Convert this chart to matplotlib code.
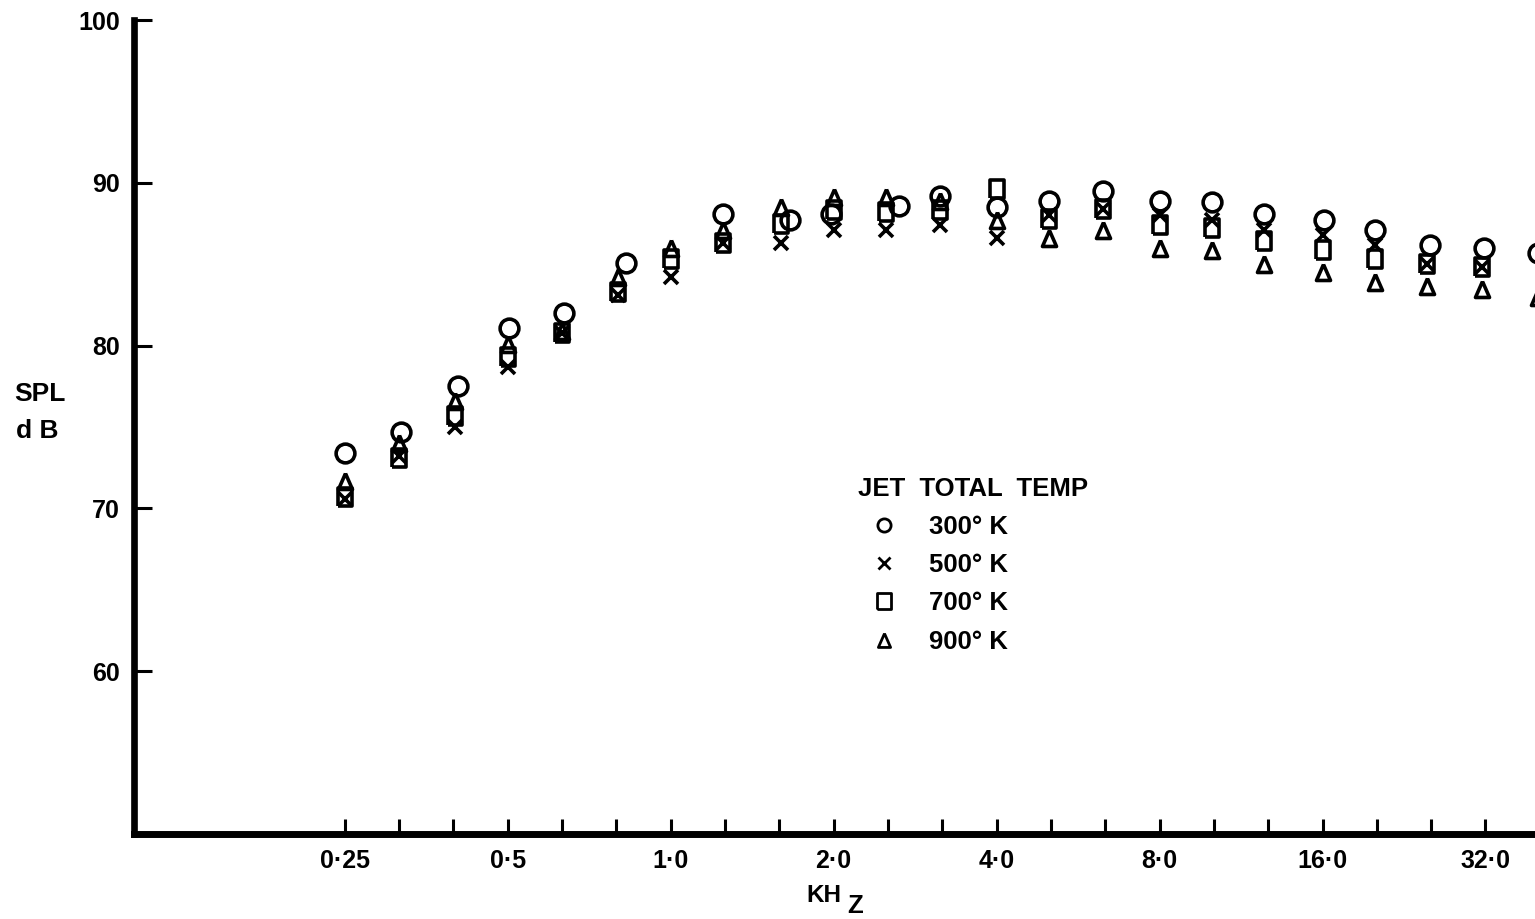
import numpy as np
import matplotlib
matplotlib.use("Agg")
import matplotlib.pyplot as plt
from matplotlib.lines import Line2D
from matplotlib.ticker import FixedLocator, FixedFormatter, NullLocator

plt.rcParams['font.family'] = ['Liberation Sans', 'DejaVu Sans']
plt.rcParams['font.weight'] = 'bold'

# ---------------- data ----------------
freq = [0.25, 0.315, 0.4, 0.5, 0.63, 0.8, 1.0, 1.25, 1.6, 2.0, 2.5, 3.15,
        4.0, 5.0, 6.3, 8.0, 10.0, 12.5, 16.0, 20.0, 25.0, 31.5, 40.0]
# 300 K points sit slightly off the nominal band centres in the original
freq_300 = [0.25, 0.317, 0.405, 0.503, 0.635, 0.828, 1.0, 1.25, 1.66, 1.98, 2.64, 3.15,
            4.0, 5.0, 6.3, 8.0, 10.0, 12.5, 16.1, 20.0, 25.3, 31.8, 40.0]
spl_300 = [73.4, 74.7, 77.5, 81.1, 82.0, 85.1, np.nan, 88.1, 87.7, 88.1, 88.6, 89.2,
           88.5, 88.9, 89.5, 88.9, 88.8, 88.1, 87.7, 87.1, 86.2, 86.0, 85.7]
spl_500 = [70.6, 73.2, 75.0, 78.7, 80.8, 83.1, 84.2, 86.3, 86.3, 87.1, 87.1, 87.4,
           86.6, 88.0, 88.4, 88.0, 87.7, 87.1, 86.8, 86.2, 85.0, 84.8, np.nan]
spl_700 = [70.7, 73.1, 75.7, 79.3, 80.8, 83.3, 85.3, 86.3, 87.5, 88.3, 88.2, 88.3,
           89.6, 87.8, 88.4, 87.4, 87.25, 86.4, 85.9, 85.3, 85.0, 84.8, np.nan]
spl_900 = [71.7, 74.0, 76.6, 80.1, 80.9, 84.2, 86.0, 87.1, 88.5, 89.1, 89.1, 88.9,
           87.7, 86.6, 87.1, 86.0, 85.9, 85.0, 84.5, 83.9, 83.65, 83.5, 83.0]

series_labels = ["300\u00b0 K", "500\u00b0 K", "700\u00b0 K", "900\u00b0 K"]
legend_title = "JET  TOTAL  TEMP"

xtick_values = [0.25 * 2 ** (k / 3.0) for k in range(22)]
xtick_labels = ["0\u00b725", "", "", "0\u00b75", "", "", "1\u00b70", "", "", "2\u00b70", "", "",
                "4\u00b70", "", "", "8\u00b70", "", "", "16\u00b70", "", "", "32\u00b70"]
ytick_values = [60, 70, 80, 90, 100]
ytick_labels = ["60", "70", "80", "90", "100"]

# ---------------- marker shapes ----------------
rect_tall = [(-0.39, -0.5), (0.39, -0.5), (0.39, 0.5), (-0.39, 0.5), (-0.39, -0.5)]
tri = [(0.0, 0.5), (-0.44, -0.5), (0.44, -0.5), (0.0, 0.5)]

# ---------------- figure ----------------
W, H = 1535, 919
fig = plt.figure(figsize=(W / 100, H / 100), dpi=100)
ax = fig.add_axes([134 / W, (H - 834) / H, (W - 134) / W, 814 / H])
ax.set_xscale('log', base=2)
ax.set_xlim(0.102, 39.5)
ax.set_ylim(50, 100)

common = dict(linestyle='none', mfc='none', mec='black', color='black')
ax.plot(freq_300, spl_300, marker='o', ms=13.5, mew=2.6, **common)
ax.plot(freq, spl_500, marker='x', ms=10.5, mew=2.6, **common)
ax.plot(freq, spl_700, marker=rect_tall, ms=13, mew=2.6, **common)
ax.plot(freq, spl_900, marker=tri, ms=11.5, mew=2.6, **common)

# axes styling
for s in ['top', 'right']:
    ax.spines[s].set_visible(False)
ax.spines['left'].set_linewidth(4.8)
ax.spines['bottom'].set_linewidth(5)

ax.xaxis.set_major_locator(FixedLocator(xtick_values))
ax.xaxis.set_major_formatter(FixedFormatter(xtick_labels))
ax.xaxis.set_minor_locator(NullLocator())
ax.yaxis.set_major_locator(FixedLocator(ytick_values))
ax.yaxis.set_major_formatter(FixedFormatter(ytick_labels))
ax.yaxis.set_minor_locator(NullLocator())
ax.tick_params(axis='x', direction='in', length=11, width=2.2, pad=11, labelsize=18)
ax.tick_params(axis='y', direction='in', length=13, width=2.2, pad=10, labelsize=18)

# axis labels
fig.text(14 / W, 1 - 394 / H, "SPL", ha='left', va='center', fontsize=19)
fig.text(16 / W, 1 - 431 / H, "d B", ha='left', va='center', fontsize=19)
fig.text(824 / W, 1 - 896 / H, "KH", ha='center', va='center', fontsize=17.5)
fig.text(855 / W, 1 - 906 / H, "Z", ha='center', va='center', fontsize=18.5)

# legend
lcommon = dict(linestyle='none', mfc='none', mec='black', color='black', mew=2.0)
handles = [Line2D([], [], marker='o', ms=9.5, **lcommon),
           Line2D([], [], marker='x', ms=8.5, **lcommon),
           Line2D([], [], marker=rect_tall, ms=12, **lcommon),
           Line2D([], [], marker=tri, ms=10, **lcommon)]
ax.legend(handles, series_labels, title=legend_title, loc='upper left',
          bbox_to_anchor=(0.5168, 0.4385), frameon=False, borderpad=0,
          borderaxespad=0, handlelength=2.0, handletextpad=0.75,
          labelspacing=0.55, fontsize=18.5, title_fontsize=18.5, alignment='left')

fig.savefig('out.png', dpi=100)
